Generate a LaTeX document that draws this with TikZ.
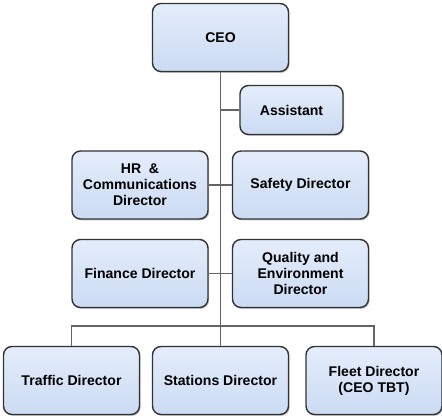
\documentclass[tikz,border=0pt]{standalone}
\usepackage{fontspec}
\setmainfont{Liberation Sans}
\usepackage{tikz}
\usetikzlibrary{shapes,shadows,arrows}
\definecolor{boxTop}{RGB}{228,237,251}
\definecolor{boxBottom}{RGB}{203,219,243}
\definecolor{orgGray}{RGB}{100,100,100}
\tikzstyle{unit} = [rectangle, rounded corners=6pt, minimum width=3.4cm, minimum height=1.7cm,
align=center, draw=black!80, line width=1pt, top color=boxTop, bottom color=boxBottom,
drop shadow={opacity=0.45, shadow xshift=0.8pt, shadow yshift=-1pt},
font=\fontsize{10}{11.3}\selectfont\bfseries]
\tikzstyle{small} = [unit, minimum width=2.575cm, minimum height=1.225cm]
\tikzstyle{orgLine} = [draw=orgGray, line width=1.4pt]

\begin{document}
\begin{tikzpicture}[node distance=2cm]
		\useasboundingbox (-5.5125,0.9375) rectangle (5.5375,-9.4625);
		%blocks
		\node[unit](ceo){CEO};
		\node[small, below of=ceo, xshift=1.775cm, yshift=0.1875cm](assistant){Assistant};
		\node[unit, below of=ceo, xshift=-2.0125cm, yshift=-1.6875cm](hr){HR \ \&\\Communications\\Director};
		\node[unit, below of=ceo, xshift=2cm, yshift=-1.6875cm](safety){Safety Director};
		\node[unit, below of=hr, yshift=-0.2125cm](finance){Finance Director};
		\node[unit, below of=safety, yshift=-0.2125cm](quality){Quality and\\Environment\\Director};
		\node[unit, below of=ceo, yshift=-6.575cm](stations){Stations Director};
		\node[unit, left of=stations, xshift=-1.725cm](traffic){Traffic Director};
		\node[unit, right of=stations, xshift=1.8375cm](fleet){Fleet Director\\(CEO TBT)};

		%lines
		\draw[orgLine](ceo)--(stations);
		\draw[orgLine](assistant.west)--(assistant.west -| ceo.south);
		\draw[orgLine](hr)--(safety);
		\draw[orgLine](finance)--(quality);
		\draw[orgLine](traffic.north)--++(0,0.5)-|(fleet.north);
	\end{tikzpicture}
\end{document}
